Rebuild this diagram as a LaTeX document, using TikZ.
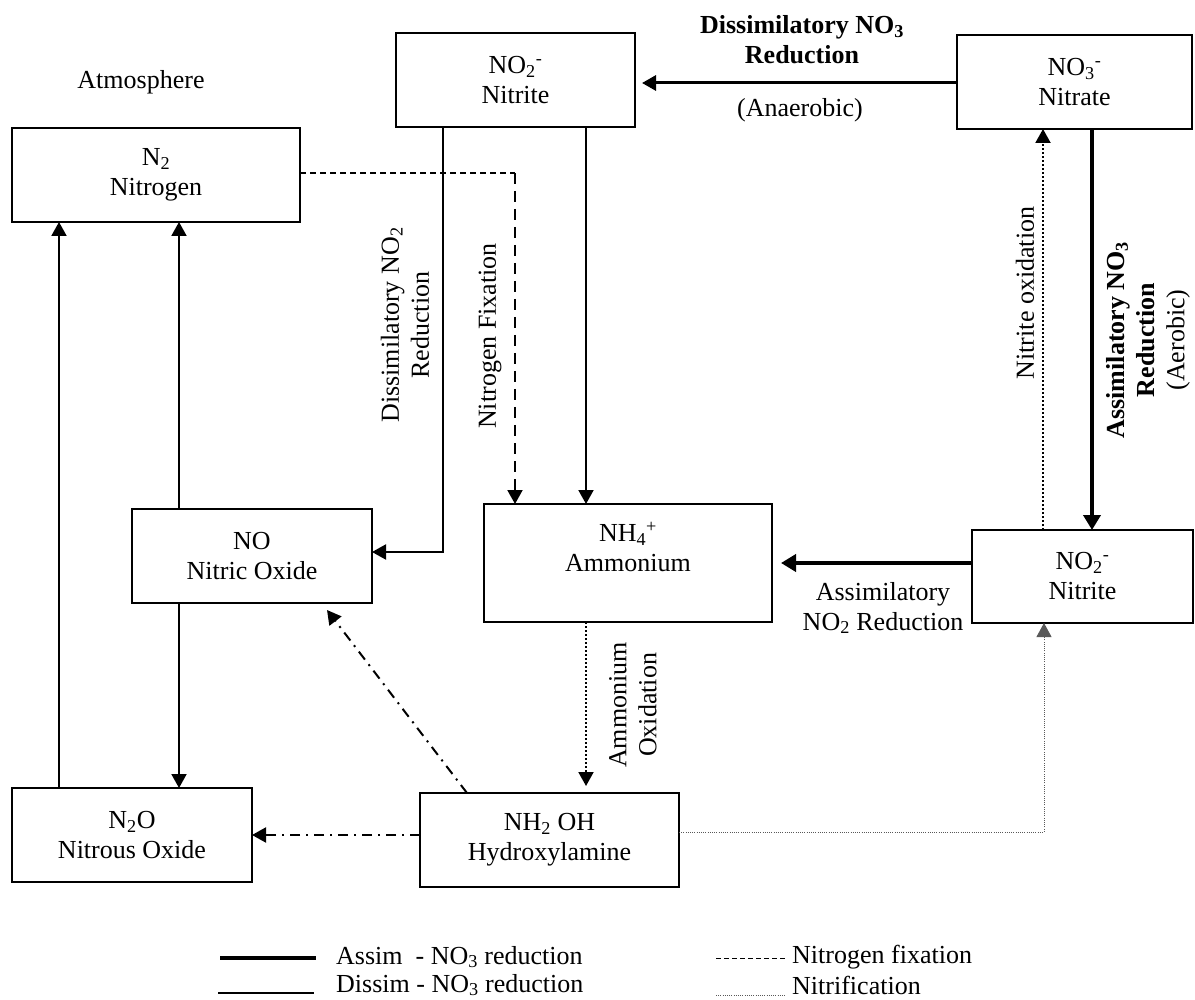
\documentclass[tikz,border=0pt]{standalone}
\usepackage{fontspec}
\setmainfont{Liberation Serif}
\usetikzlibrary{arrows.meta}
\newcommand\bigtxt{\fontsize{26}{30}\selectfont}
\begin{document}
\begin{tikzpicture}[x=1pt,y=-1pt,
  box/.style={draw,line width=1.6pt,inner sep=0pt,outer sep=0pt,align=center,font=\bigtxt},
  txt/.style={inner sep=0pt,align=center,font=\bigtxt},
  bigarr/.style={-{Triangle[length=14pt,width=15pt]}},
  dissim/.style={line width=2pt,bigarr},
  topdis/.style={line width=3pt,bigarr},
  assim/.style={line width=4pt,-{Triangle[length=15pt,width=17pt]}},
  dotarrow/.style={line width=2pt,dash pattern=on 2pt off 2pt,bigarr},
  nitri/.style={line width=0.9pt,dash pattern=on 1pt off 1.2pt,bigarr},
  nfixh/.style={line width=1.2pt,dash pattern=on 6pt off 4pt},
  nfixv/.style={line width=2pt,dash pattern=on 11pt off 7pt,bigarr},
  dashdot/.style={line width=2pt,dash pattern=on 10pt off 6pt on 2pt off 6pt,bigarr}
]
\useasboundingbox (0,0) rectangle (1195,1000);

% boxes
\node[box,minimum width=288pt,minimum height=94pt] (n2) at (156,175) {N\textsubscript{2}\\Nitrogen};
\node[box,minimum width=239pt,minimum height=94pt] (nitrite) at (515.5,80) {NO\textsubscript{2}\textsuperscript{-}\\Nitrite};
\node[box,minimum width=235pt,minimum height=94pt] (nitrate) at (1074.5,82) {NO\textsubscript{3}\textsuperscript{-}\\Nitrate};
\node[box,minimum width=240pt,minimum height=94pt] (no) at (252,556) {NO\\Nitric Oxide};
\node[box,minimum width=288pt,minimum height=118pt] (nh4) at (628,563) {};
\node[txt] (nh4t) at (628,547) {NH\textsubscript{4}\textsuperscript{+}\\Ammonium};
\node[box,minimum width=221pt,minimum height=93pt] (nitrite2) at (1082.5,576.5) {NO\textsubscript{2}\textsuperscript{-}\\Nitrite};
\node[box,minimum width=240pt,minimum height=94pt] (n2o) at (132,835) {N\textsubscript{2}O\\Nitrous Oxide};
\node[box,minimum width=259pt,minimum height=94pt] (hyd) at (549.5,840) {NH\textsubscript{2} OH\\Hydroxylamine};

% labels
\node[txt] (atm) at (141,82) {Atmosphere};
\node[txt] (ldisno3) at (802,40) {\textbf{Dissimilatory NO\textsubscript{3}}\\\textbf{Reduction}};
\node[txt] (lanaer) at (800,110) {(Anaerobic)};
\node[txt,rotate=90] (ldisno2) at (405,325) {Dissimilatory NO\textsubscript{2}\\Reduction};
\node[txt,rotate=90] (lnfix) at (490,336) {Nitrogen Fixation};
\node[txt,rotate=90] (lnitox) at (1025,293) {Nitrite oxidation};
\node[txt,rotate=90] (lassno3) at (1148,340) {\textbf{Assimilatory NO\textsubscript{3}}\\\textbf{Reduction}\\(Aerobic)};
\node[txt] (lassno2) at (883,608) {Assimilatory\\NO\textsubscript{2} Reduction};
\node[txt,rotate=90] (lammox) at (633,705) {Ammonium\\Oxidation};

% connectors
\draw[topdis,shorten >=7pt] ([yshift=-1pt]nitrate.west) -- ([yshift=-1pt]nitrate.west -| nitrite.east);
\draw[assim] ([xshift=17.5pt]nitrate.south) -- ([xshift=17.5pt]nitrate.south |- nitrite2.north);
\draw[dotarrow] ([xshift=-39.5pt]nitrite2.north) -- ([xshift=-39.5pt]nitrite2.north |- nitrate.south);
\draw[assim,shorten >=9pt] ([yshift=13.5pt]nitrite2.west) -- ([yshift=13.5pt]nitrite2.west -| nh4.east);
\draw[dissim] ([xshift=70.5pt]nitrite.south) -- ([xshift=70.5pt]nitrite.south |- nh4.north);
\draw[dissim] ([xshift=-72.5pt]nitrite.south) |- ([yshift=4pt]no.east);
\coordinate (nfc) at (515,173);
\draw[nfixh] (n2.east |- nfc) -- (nfc);
\draw[nfixv] (nfc) -- (nfc |- nh4.north);
\draw[dissim] ([xshift=-73pt]no.north) -- ([xshift=-73pt]no.north |- n2.south);
\draw[dissim] ([xshift=-73pt]no.south) -- ([xshift=-73pt]no.south |- n2o.north);
\draw[dissim] ([xshift=-73pt]n2o.north) -- ([xshift=-73pt]n2o.north |- n2.south);
\draw[dotarrow,shorten >=7pt] ([xshift=-42pt]nh4.south) -- ([xshift=-42pt]nh4.south |- hyd.north);
\draw[dashdot] ([xshift=-82.5pt]hyd.north) -- ([xshift=75pt,yshift=-7pt]no.south);
\draw[dashdot] ([yshift=5pt]hyd.west) -- ([yshift=5pt]hyd.west -| n2o.east);
\draw[nitri,gray!70!black] ([yshift=8pt]hyd.east) -| ([xshift=-38.5pt]nitrite2.south);

% legend
\coordinate (la1) at (220,958); \coordinate (la2) at (316,958);
\coordinate (lb1) at (218,993); \coordinate (lb2) at (314,993);
\coordinate (lc1) at (716,958); \coordinate (lc2) at (785,958);
\coordinate (ld1) at (716,995); \coordinate (ld2) at (785,995);
\draw[line width=4pt] (la1) -- (la2);
\draw[line width=2pt] (lb1) -- (lb2);
\draw[line width=1pt,dash pattern=on 5pt off 3pt] (lc1) -- (lc2);
\draw[line width=0.9pt,gray!70!black,dash pattern=on 1pt off 1.2pt] (ld1) -- (ld2);
\node[txt,anchor=west] (lt1) at (336,957) {Assim\ \ - NO\textsubscript{3} reduction};
\node[txt,anchor=west] (lt2) at (336,985) {Dissim - NO\textsubscript{3} reduction};
\node[txt,anchor=west] (lt3) at (792,957) {Nitrogen fixation};
\node[txt,anchor=west] (lt4) at (792,985) {Nitrification};
\end{tikzpicture}
\end{document}
